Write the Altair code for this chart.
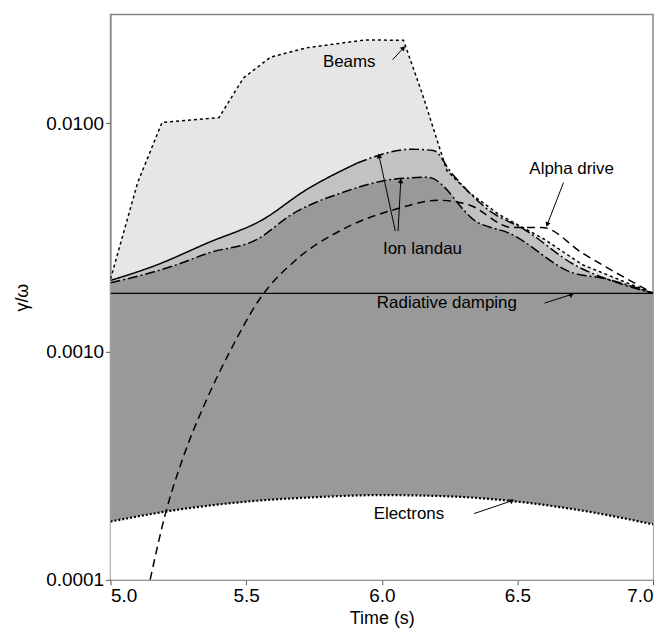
import pandas as pd
import altair as alt

# series
beams_t = [5.0, 5.10, 5.19, 5.40, 5.49, 5.59, 5.72, 5.94, 6.08, 6.15, 6.24, 6.32, 6.43, 6.60, 6.74, 7.0]
beams_v = [0.00208, 0.0055, 0.0101, 0.0106, 0.0158, 0.0195, 0.0214, 0.0232, 0.0231, 0.0134, 0.0062, 0.0050, 0.0040, 0.0031, 0.0024, 0.0018]

ion_hi_t = [5.0, 5.16, 5.36, 5.56, 5.72, 5.91, 6.11, 6.19, 6.26, 6.39, 6.53, 6.71, 6.87, 7.0]
ion_hi_v = [0.00205, 0.00237, 0.0030, 0.00378, 0.0051, 0.0067, 0.0077, 0.0076, 0.0060, 0.0042, 0.0034, 0.0024, 0.0020, 0.0018]

ion_lo_t = [5.0, 5.23, 5.36, 5.54, 5.67, 5.86, 6.05, 6.17, 6.35, 6.47, 6.71, 6.81, 7.0]
ion_lo_v = [0.0020, 0.00237, 0.0027, 0.0031, 0.0040, 0.0050, 0.0057, 0.0058, 0.0037, 0.0033, 0.0022, 0.0021, 0.0018]

alpha_t = [5.146, 5.20, 5.27, 5.35, 5.44, 5.55, 5.68, 5.85, 6.05, 6.21, 6.32, 6.48, 6.59, 6.74, 7.0]
alpha_v = [0.0001, 0.00019, 0.00035, 0.0006, 0.0010, 0.0017, 0.0025, 0.0034, 0.0042, 0.0046, 0.0044, 0.0035, 0.0035, 0.0027, 0.0018]

elec_t = [5.0, 5.25, 5.5, 5.75, 6.0, 6.25, 6.5, 6.75, 7.0]
elec_v = [0.00018, 0.000203, 0.00022, 0.00023, 0.000235, 0.000232, 0.00022, 0.0002, 0.000175]

rad_t = [5.0, 7.0]
rad_v = [0.0018, 0.0018]

labels = ["Beams", "Alpha drive", "Ion landau", "Radiative damping", "Electrons"]
label_t = [5.88, 6.70, 6.15, 6.24, 6.10]
label_v = [0.0185, 0.0063, 0.0028, 0.00163, 0.000195]

# pointer lines: start, end
ptr_t0 = [6.04, 6.67, 6.05, 6.06, 6.60, 6.34]
ptr_v0 = [0.019, 0.0055, 0.00337, 0.00337, 0.00163, 0.000195]
ptr_t1 = [6.08, 6.61, 5.99, 6.07, 6.70, 6.48]
ptr_v1 = [0.0214, 0.0036, 0.0072, 0.0056, 0.00178, 0.000222]
ptr_ang = [45, 200, 349, 5, 60, 60]

FONT = "Liberation Sans"
xs = alt.Scale(domain=[5.0, 7.0], nice=False)
ys = alt.Scale(type="log", domain=[0.0001, 0.03], nice=False, clamp=True)


def frame(t, v):
    return pd.DataFrame({"t": t, "v": v, "base": 0.0001})


def area(t, v, color, interp="monotone"):
    return alt.Chart(frame(t, v)).mark_area(color=color, opacity=1, clip=True, interpolate=interp).encode(
        x=alt.X("t:Q", scale=xs), y=alt.Y("v:Q", scale=ys), y2="base:Q")


def line(t, v, dash, width=1.5, interp="monotone"):
    return alt.Chart(frame(t, v)).mark_line(color="black", strokeDash=dash, strokeWidth=width,
                                            clip=True, interpolate=interp).encode(
        x=alt.X("t:Q", scale=xs), y=alt.Y("v:Q", scale=ys))


base = alt.Chart(frame(beams_t, beams_v)).mark_area(color="#e6e6e6", opacity=1, clip=True).encode(
    x=alt.X("t:Q", scale=xs, title="Time (s)",
            axis=alt.Axis(values=[5.0, 5.5, 6.0, 6.5, 7.0], format=".1f", grid=False)),
    y=alt.Y("v:Q", scale=ys, title="γ/ω",
            axis=alt.Axis(values=[0.0001, 0.001, 0.01], format=".4f", grid=False, titlePadding=14)),
    y2="base:Q")

ptr = pd.DataFrame({"t0": ptr_t0, "v0": ptr_v0, "t1": ptr_t1, "v1": ptr_v1, "ang": ptr_ang})
rules = alt.Chart(ptr).mark_rule(color="black", strokeWidth=1).encode(
    x=alt.X("t0:Q", scale=xs), y=alt.Y("v0:Q", scale=ys), x2="t1:Q", y2="v1:Q")
heads = alt.Chart(ptr).mark_point(shape="triangle-up", filled=True, color="black", size=30, opacity=1).encode(
    x=alt.X("t1:Q", scale=xs), y=alt.Y("v1:Q", scale=ys), angle=alt.Angle("ang:Q", scale=None))

texts = alt.Chart(pd.DataFrame({"t": label_t, "v": label_v, "lab": labels})).mark_text(
    font=FONT, fontSize=17, color="black").encode(
    x=alt.X("t:Q", scale=xs), y=alt.Y("v:Q", scale=ys), text="lab:N")

chart = alt.layer(
    base,
    area(ion_hi_t, ion_hi_v, "#c2c2c2"),
    area(ion_lo_t, ion_lo_v, "#999999"),
    area(elec_t, elec_v, "white"),
    line(beams_t, beams_v, [3, 3], interp="linear"),
    line(ion_hi_t[:6], ion_hi_v[:6], [1, 0]),
    line(ion_hi_t[5:], ion_hi_v[5:], [10, 3, 2, 3]),
    line(ion_lo_t, ion_lo_v, [10, 3, 2, 3]),
    line(alpha_t, alpha_v, [8, 5]),
    line(rad_t, rad_v, [1, 0], 1.2),
    line(elec_t, elec_v, [2, 2], 2.2),
    rules, heads, texts,
).properties(width=545, height=568).configure_view(stroke="#888888", strokeWidth=1.5).configure_axis(
    labelFont=FONT, titleFont=FONT, labelFontSize=19, titleFontSize=18,
    titleFontWeight="normal", labelColor="black", titleColor="black",
    domainColor="#888888", tickColor="#555555")

chart.save("out.html", embed_options={"renderer": "svg", "actions": False})
